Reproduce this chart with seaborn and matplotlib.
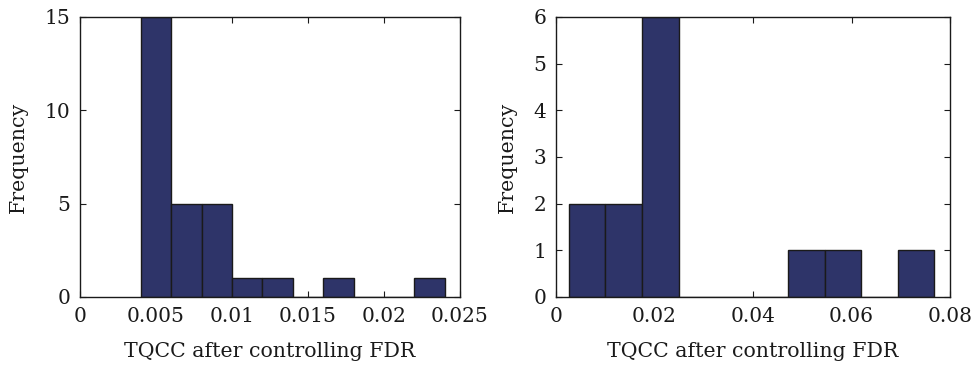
import matplotlib
matplotlib.use("Agg")
import numpy as np
import pandas as pd
import seaborn as sns
from matplotlib import pyplot as plt

# Left panel: bin edges and counts
left_edges = [0.004, 0.006, 0.008, 0.010, 0.012, 0.014, 0.016, 0.018, 0.020, 0.022, 0.024]
left_counts = [15, 5, 5, 1, 1, 0, 1, 0, 0, 1]
left_xticks = [0, 0.005, 0.01, 0.015, 0.02, 0.025]
left_xticklabels = ["0", "0.005", "0.01", "0.015", "0.02", "0.025"]
left_yticks = [0, 5, 10, 15]

# Right panel
right_edges = [0.0026, 0.0100, 0.0175, 0.0249, 0.0323, 0.0397, 0.0472,
               0.0546, 0.0620, 0.0694, 0.0768]
right_counts = [2, 2, 6, 0, 0, 0, 1, 1, 0, 1]
right_xticks = [0, 0.02, 0.04, 0.06, 0.08]
right_xticklabels = ["0", "0.02", "0.04", "0.06", "0.08"]
right_yticks = [0, 1, 2, 3, 4, 5, 6]

xlabel = "TQCC after controlling FDR"
ylabel = "Frequency"
bar_color = "#2E3469"
ink = "#1a1a1a"

sns.set_style("ticks")
plt.rcParams["font.family"] = ["DejaVu Serif"]
plt.rcParams["font.size"] = 14
plt.rcParams["text.color"] = ink
plt.rcParams["axes.labelcolor"] = ink
plt.rcParams["xtick.color"] = ink
plt.rcParams["ytick.color"] = ink
plt.rcParams["axes.edgecolor"] = ink

W, H = 973, 369
fig = plt.figure(figsize=(W / 100, H / 100), dpi=100)
ax_l = fig.add_axes([80 / W, 1 - 297 / H, 380 / W, 280 / H])
ax_r = fig.add_axes([556 / W, 1 - 297 / H, 394 / W, 280 / H])

panels = [
    (ax_l, left_edges, left_counts, left_xticks, left_xticklabels, left_yticks, 0.025, 15),
    (ax_r, right_edges, right_counts, right_xticks, right_xticklabels, right_yticks, 0.08, 6),
]
for ax, edges, counts, xt, xtl, yt, xmax, ymax in panels:
    e = np.asarray(edges)
    df = pd.DataFrame({"value": (e[:-1] + e[1:]) / 2, "count": counts})
    sns.histplot(
        data=df,
        x="value",
        weights="count",
        bins=list(edges),
        ax=ax,
        color=bar_color,
        edgecolor=ink,
        linewidth=1.0,
        alpha=1,
    )
    ax.set_xlim(0, xmax)
    ax.set_ylim(0, ymax)
    ax.set_xticks(xt)
    ax.set_xticklabels(xtl)
    ax.set_yticks(yt)
    ax.tick_params(direction="in", top=True, right=True, length=4, width=0.8,
                   labelsize=14.5, pad=7)
    for s in ax.spines.values():
        s.set_linewidth(1.0)
    ax.set_xlabel(xlabel, fontsize=14.8, labelpad=12)
    ax.set_ylabel(ylabel, fontsize=14.8, labelpad=12)

fig.savefig("out.png", dpi=100)
